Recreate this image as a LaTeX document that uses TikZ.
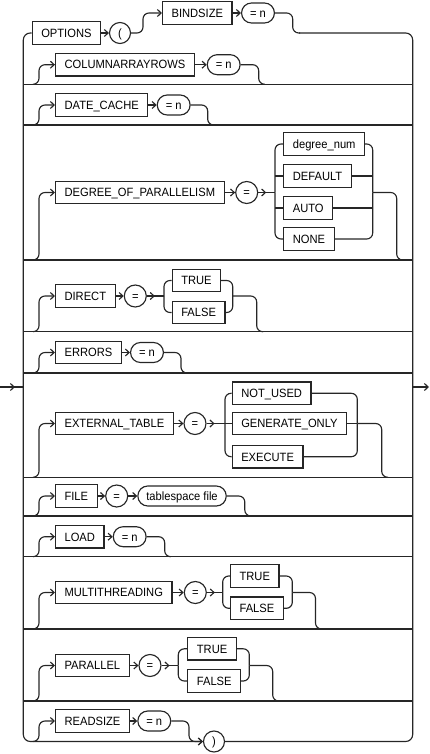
\documentclass[tikz,border=0pt]{standalone}
\usepackage{fontspec}
\setmainfont{Liberation Sans}[FakeStretch=0.93]
\usetikzlibrary{arrows.meta,decorations.markings,calc}
\newcommand\dfont{\fontsize{12}{14}\selectfont}
\begin{document}
\begin{tikzpicture}[x=1pt,y=-1pt,line width=1.15pt,black!85,
  kw/.style={draw,rectangle,text=black,font=\dfont,inner xsep=9pt,inner ysep=0pt,
    minimum height=22.5pt,text height=8.6pt,text depth=0pt,anchor=west},
  ov/.style={kw,rounded corners=9.9pt,minimum height=20pt,inner xsep=8.5pt},
  ci/.style={draw,circle,text=black,font=\dfont,minimum size=22pt,inner sep=0pt,
    text height=8.6pt,text depth=0pt},
  rc/.style={rounded corners=6pt},
  rr/.style={rounded corners=7pt},
  arrowat/.style={postaction={decorate,decoration={markings,mark=at position #1 with {\arrow{>}}}}},
  >={Straight Barb[length=3.8pt,width=7pt]}]
\useasboundingbox (0,0) rectangle (430,754);

% ---- top row
\node[kw] (opt) at (31.7,33) {OPTIONS};
\node[ci,minimum size=21pt] (lp) at (120,33) {(};
\node[kw] (bind) at (162,13) {BINDSIZE};
\node[ov] (bindeq) at (241,13) {= n};
\draw[->] (opt.east) -- (lp.west);
\draw[rc,->] (lp.east) -- (143,33) -- (143,13) -- (bind.west);
\draw[->] (bind.east) -- (bindeq.west);
\draw[rc] (bindeq.east) -- (292.7,13) -- (292.7,33) -- (300,33);

% ---- COLUMNARRAYROWS
\node[kw] (col) at (55,64.7) {COLUMNARRAYROWS};
\node[ov] (coleq) at (206.7,64.7) {= n};
\draw[rc,->] (33,84.3) -- (39,84.3) -- (39,64.7) -- (col.west);
\draw[->] (col.east) -- (coleq.west);
\draw[rc] (coleq.east) -- ++(18,0) -- ++(0,19.6) -- ++(6,0);

% ---- DATE_CACHE
\node[kw] (dc) at (55,105) {DATE\_CACHE};
\node[ov] (dceq) at (156.7,105) {= n};
\draw[rc,->] (33,125) -- (39,125) -- (39,105) -- (dc.west);
\draw[->] (dc.east) -- (dceq.west);
\draw[rc] (dceq.east) -- ++(17,0) -- ++(0,20) -- ++(6,0);

% ---- DEGREE_OF_PARALLELISM
\node[kw] (dop) at (55,192.5) {DEGREE\_OF\_PARALLELISM};
\node[ci] (dopeq) at (246.7,192.5) {=};
\coordinate (dopL) at (275,192.5);
\coordinate (dopR) at (372.7,192.5);
\node[kw] (dn) at (283.3,144) {degree\_num};
\node[kw] (df) at (283.3,176) {DEFAULT};
\node[kw] (au) at (283.3,208) {AUTO};
\node[kw] (no) at (283.3,239) {NONE};
\draw[rc,->] (33,260) -- (39,260) -- (39,192.5) -- (dop.west);
\draw[->] (dop.east) -- (dopeq.west);
\draw[arrowat=8pt] (dopeq.east) -- (dopL);
\draw[rc] (dopL) |- (dn.west);
\draw[rc] (dopL) |- (no.west);
\draw (df.west -| dopL) -- (df.west);
\draw (au.west -| dopL) -- (au.west);
\draw[rc] (dn.east) -| (dopR);
\draw[rc] (no.east) -| (dopR);
\draw (df.east) -- (df.east -| dopR);
\draw (au.east) -- (au.east -| dopR);
\draw[rc] (dopR) -- (396.7,192.5) -- (396.7,260) -- (403,260);

% ---- DIRECT
\node[kw] (dir) at (55,296) {DIRECT};
\node[ci] (direq) at (135.3,296) {=};
\coordinate (dirL) at (164,296);
\coordinate (dirR) at (232.7,296);
\node[kw] (dirt) at (171.7,280.5) {TRUE};
\node[kw] (dirf) at (171.7,312.5) {FALSE};
\draw[rc,->] (33,331.7) -- (39,331.7) -- (39,296) -- (dir.west);
\draw[->] (dir.east) -- (direq.west);
\draw[arrowat=8pt] (direq.east) -- (dirL);
\draw[rc] (dirL) |- (dirt.west);
\draw[rc] (dirL) |- (dirf.west);
\draw[rc] (dirt.east) -| (dirR);
\draw[rc] (dirf.east) -| (dirR);
\draw[rc] (dirR) -- (256.7,296) -- (256.7,331.7) -- (263,331.7);

% ---- ERRORS
\node[kw] (err) at (55,352.5) {ERRORS};
\node[ov] (erreq) at (130,352.5) {= n};
\draw[rc,->] (33,373) -- (39,373) -- (39,352.5) -- (err.west);
\draw[->] (err.east) -- (erreq.west);
\draw[rc] (erreq.east) -- ++(17,0) -- ++(0,20.5) -- ++(6,0);

% ---- EXTERNAL_TABLE
\node[kw] (ext) at (55,423.5) {EXTERNAL\_TABLE};
\node[ci] (exteq) at (195,423.5) {=};
\coordinate (extL) at (225,423.5);
\coordinate (extR) at (357.3,423.5);
\node[kw] (nu) at (231.7,393.3) {NOT\_USED};
\node[kw] (go) at (231.7,423.5) {GENERATE\_ONLY};
\node[kw] (ex) at (231.7,456.7) {EXECUTE};
\draw[rc,->] (33,477.3) -- (39,477.3) -- (39,423.5) -- (ext.west);
\draw[->] (ext.east) -- (exteq.west);
\draw[arrowat=8pt] (exteq.east) -- (extL);
\draw (extL) -- (go.west);
\draw[rc] (extL) |- (nu.west);
\draw[rc] (extL) |- (ex.west);
\draw[rc] (nu.east) -| (extR);
\draw[rc] (ex.east) -| (extR);
\draw (go.east) -- (extR);
\draw[rc] (extR) -- (381.7,423.5) -- (381.7,477.3) -- (388,477.3);

% ---- FILE
\node[kw] (file) at (55,496) {FILE};
\node[ci] (fileeq) at (116.7,496) {=};
\node[ov] (tsf) at (137.3,496) {tablespace file};
\draw[rc,->] (33,516) -- (39,516) -- (39,496) -- (file.west);
\draw[->] (file.east) -- (fileeq.west);
\draw[->] (fileeq.east) -- (tsf.west);
\draw[rc] (tsf.east) -- ++(18,0) -- ++(0,20) -- ++(6,0);

% ---- LOAD
\node[kw] (load) at (55,536.7) {LOAD};
\node[ov] (loadeq) at (112.7,536.7) {= n};
\draw[rc,->] (33,556.7) -- (39,556.7) -- (39,536.7) -- (load.west);
\draw[->] (load.east) -- (loadeq.west);
\draw[rc] (loadeq.east) -- ++(18,0) -- ++(0,20) -- ++(6,0);

% ---- MULTITHREADING
\node[kw] (mt) at (55,592.5) {MULTITHREADING};
\node[ci] (mteq) at (195.3,592.5) {=};
\coordinate (mtL) at (222.7,592.5);
\coordinate (mtR) at (292.3,592.5);
\node[kw] (mtt) at (230,576) {TRUE};
\node[kw] (mtf) at (230,608.3) {FALSE};
\draw[rc,->] (33,629) -- (39,629) -- (39,592.5) -- (mt.west);
\draw[->] (mt.east) -- (mteq.west);
\draw[arrowat=8pt] (mteq.east) -- (mtL);
\draw[rc] (mtL) |- (mtt.west);
\draw[rc] (mtL) |- (mtf.west);
\draw[rc] (mtt.east) -| (mtR);
\draw[rc] (mtf.east) -| (mtR);
\draw[rc] (mtR) -- (315.5,592.5) -- (315.5,629) -- (322,629);

% ---- PARALLEL
\node[kw] (par) at (55,665.5) {PARALLEL};
\node[ci] (pareq) at (150,665.5) {=};
\coordinate (parL) at (178.3,665.5);
\coordinate (parR) at (249.3,665.5);
\node[kw] (part) at (187.3,648.8) {TRUE};
\node[kw] (parf) at (187.3,681) {FALSE};
\draw[rc,->] (33,701) -- (39,701) -- (39,665.5) -- (par.west);
\draw[->] (par.east) -- (pareq.west);
\draw[arrowat=8pt] (pareq.east) -- (parL);
\draw[rc] (parL) |- (part.west);
\draw[rc] (parL) |- (parf.west);
\draw[rc] (part.east) -| (parR);
\draw[rc] (parf.east) -| (parR);
\draw[rc] (parR) -- (272.7,665.5) -- (272.7,701) -- (279,701);

% ---- READSIZE
\node[kw] (rs) at (55,721) {READSIZE};
\node[ov] (rseq) at (137.3,721) {= n};
\node[ci,minimum size=21pt] (rp) at (214,741.5) {)};
\draw[rc,->] (33,741.5) -- (39,741.5) -- (39,721) -- (rs.west);
\draw[->] (rs.east) -- (rseq.west);
\draw[rc,->] (rseq.east) -- (189,721) -- (189,741.5) -- (rp.west);

% ---- rails
\coordinate (LT) at (23.3,33);
\coordinate (LB) at (23.3,741.5);
\coordinate (RT) at (412.7,33);
\coordinate (RB) at (412.7,741.5);
\draw[rr,->] (opt.west) -- (LT) -- (LB) -- (rp.west);
\draw[rr] (299,33) -- (RT) -- (RB) -- (rp.east);
\foreach \s in {84.3,125,260,331.7,373,477.3,516,556.7,629,701}
  \draw (23.3,\s) -- (412.7,\s);
\coordinate (inA) at (0,387);
\coordinate (inB) at (23.3,387);
\coordinate (outA) at (412.7,387);
\coordinate (outB) at (429,387);
\draw[arrowat=15pt] (inA) -- (inB);
\draw[->] (outA) -- (outB);
\end{tikzpicture}
\end{document}
